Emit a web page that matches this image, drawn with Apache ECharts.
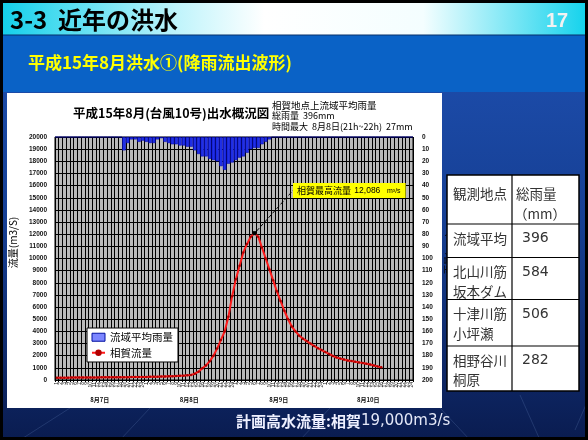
<!DOCTYPE html>
<html>
<head>
<meta charset="utf-8">
<script src="https://cdn.jsdelivr.net/npm/echarts@6/dist/echarts.min.js"></script>
<style>
  html, body { margin: 0; padding: 0; background: #0c2560; }
  #chart { width: 588px; height: 440px; }
</style>
</head>
<body>
<div id="chart"></div>
<script>
// ---- data ----
const days = ['8月7日', '8月8日', '8月9日', '8月10日'];
const hourNames = ['1','2','3','4','5','6','7','8','9','10','11','12',
                   '13','14','15','16','17','18','19','20','21','22','23','24'];

// basin-average hourly rainfall (mm), 8/7 1h .. 8/10 24h
const rainfall = [
  0,0,0,0,0,0,0,0,0,0,0,0, 0,0,0,0,0,0,11,5,2,2,4,3,
  4,5,5,2,1,4,5,6,6,7,7,8, 8,11,14,16,16,18,19,20,24,27,22,21,
  19,17,16,13,10,9,9,6,4,2,0,0, 0,0,0,0,0,0,0,0,0,0,0,0,
  0,0,0,0,0,0,0,0,0,0,0,0, 0,0,0,0,0,0,0,0,0,0,0,0
];

// hourly discharge at Aiga (m3/s)
const flow = [
  190,190,195,195,200,200,205,205,210,210,215,215,
  220,220,225,225,230,230,235,235,240,240,245,250,
  255,260,265,270,280,290,300,310,320,340,360,390,
  420,520,680,960,1200,1550,2000,2600,3300,4000,5200,6900,
  8300,9400,10500,11200,11800,12086,11800,10900,10000,9100,8200,7300,
  6500,5700,5000,4400,4000,3650,3400,3200,3000,2800,2620,2460,
  2300,2150,1980,1850,1760,1680,1610,1560,1500,1450,1400,1340,
  1280,1200,1120,1040
];

const rainTotal = 396;
const rainMaxHour = 27;
const stationNames = [['流域平均'], ['北山川筋', '坂本ダム'], ['十津川筋', '小坪瀬'], ['相野谷川', '桐原']];
const stationTotals = [396, 584, 506, 282];

// ---- derived ----
const hourCats = [];
days.forEach(function () { hourNames.forEach(function (h) { hourCats.push(h); }); });
const peakFlow = Math.max.apply(null, flow);
const peakIndex = flow.indexOf(peakFlow);
const flowData = flow.map(function (v, i) {
  if (i !== peakIndex) return v;
  return {
    value: v,
    symbol: 'rect',
    symbolSize: 4,
    itemStyle: { color: '#000' },
    label: {
      show: true,
      position: 'right',
      formatter: function (p) {
        return '{a|相賀最高流量} {b|' + p.value.toLocaleString('en-US') + '}  {c|m³/s}';
      },
      backgroundColor: '#ffff00',
      padding: [2, 5, 1, 4],
      rich: {
        a: { fontSize: 9, color: '#000', fontFamily: '"Noto Sans CJK JP"' },
        b: { fontSize: 8.5, color: '#000', fontFamily: 'Liberation Sans' },
        c: { fontSize: 7, color: '#000', fontFamily: 'Liberation Sans' }
      }
    },
    labelLine: { show: true, lineStyle: { color: '#000', type: 'dashed', width: 1 } }
  };
});

const JP = '"Noto Sans CJK JP", "Noto Sans", sans-serif';
const G = echarts.graphic;

// ---- slide decoration & table ----
const graphics = [
  { type: 'rect', z: -100, shape: { x: 0, y: 0, width: 588, height: 440 },
    style: { fill: new G.LinearGradient(0, 0, 0, 1, [
      { offset: 0, color: '#1f52b4' }, { offset: 0.5, color: '#163f94' }, { offset: 1, color: '#0a1c50' }]) } },
  { type: 'rect', z: -90, shape: { x: 0, y: 0, width: 588, height: 35 },
    style: { fill: new G.LinearGradient(0, 0, 1, 0, [
      { offset: 0, color: '#12cfea' }, { offset: 0.3, color: '#bff4fb' }, { offset: 0.45, color: '#ffffff' },
      { offset: 0.72, color: '#f4feff' }, { offset: 1, color: '#12d2ec' }]) } },
  { type: 'rect', z: -90, shape: { x: 0, y: 35, width: 588, height: 57 },
    style: { fill: '#0a62c6' } },
  { type: 'line', z: -89, shape: { x1: 0, y1: 35, x2: 588, y2: 35 }, style: { stroke: '#06306a', lineWidth: 1 } },
  { type: 'rect', z: -50, shape: { x: 7, y: 93, width: 435, height: 315 }, style: { fill: '#ffffff' } },
  { type: 'text', z: 10, style: { x: 10, y: 20, text: '3-3  近年の洪水', fill: '#000',
      font: 'bold 24px ' + JP, verticalAlign: 'middle' } },
  { type: 'text', z: 10, style: { x: 546, y: 21, text: '17', fill: '#f2f2f2',
      font: 'bold 20px "Liberation Sans"', verticalAlign: 'middle',
      shadowColor: 'rgba(0,0,0,0.9)', shadowOffsetX: 1, shadowOffsetY: 1, shadowBlur: 1 } },
  { type: 'text', z: 10, style: { x: 28, y: 63, text: '平成15年8月洪水①(降雨流出波形)', fill: '#ffff00',
      font: 'bold 17px ' + JP, verticalAlign: 'middle' } },
  { type: 'text', z: 10, style: { x: 73, y: 113, text: '平成15年8月(台風10号)出水概況図', fill: '#000',
      font: 'bold 12.5px ' + JP, verticalAlign: 'middle' } },
  { type: 'text', z: 10, style: { x: 272, y: 105, text: '相賀地点上流域平均雨量', fill: '#000',
      font: '9.5px ' + JP, verticalAlign: 'middle' } },
  { type: 'text', z: 10, style: { x: 272, y: 116, text: '総雨量  ' + rainTotal + 'mm', fill: '#000',
      font: '9px ' + JP, verticalAlign: 'middle' } },
  { type: 'text', z: 10, style: { x: 272, y: 127, text: '時間最大  8月8日(21h~22h)  ' + rainMaxHour + 'mm', fill: '#000',
      font: '9px ' + JP, verticalAlign: 'middle' } },
  { type: 'text', z: 10, style: { x: 236, y: 421, text: '{a|計画高水流量:相賀}{b|19,000m3/s}',
      verticalAlign: 'middle', rich: {
        a: { font: 'bold 15px ' + JP, fill: '#eef0ff' },
        b: { font: '15px "DejaVu Sans"', fill: '#e4e8f8' } } } },
  // table
  { type: 'rect', z: 5, shape: { x: 447, y: 175, width: 132, height: 216 },
    style: { fill: '#ffffff', stroke: '#000', lineWidth: 1.5 } },
  { type: 'line', z: 6, shape: { x1: 512, y1: 175, x2: 512, y2: 391 }, style: { stroke: '#000', lineWidth: 1.2 } }
];

const rowLines = [224, 257.5, 299.5, 346];
rowLines.forEach(function (y) {
  graphics.push({ type: 'line', z: 6, shape: { x1: 447, y1: y, x2: 579, y2: y }, style: { stroke: '#000', lineWidth: 1.2 } });
});
const cellFont = '13.5px ' + JP;
graphics.push({ type: 'text', z: 7, style: { x: 453, y: 193.5, text: '観測地点', fill: '#333', font: cellFont, verticalAlign: 'middle' } });
graphics.push({ type: 'text', z: 7, style: { x: 516, y: 193.5, text: '総雨量', fill: '#333', font: cellFont, verticalAlign: 'middle' } });
graphics.push({ type: 'text', z: 7, style: { x: 514, y: 213.5, text: '（mm）', fill: '#333', font: cellFont, verticalAlign: 'middle' } });
stationNames.forEach(function (lines, r) {
  const y0 = rowLines[r] + 14.5;
  lines.forEach(function (t, k) {
    graphics.push({ type: 'text', z: 7, style: { x: 453, y: y0 + k * 19.5, text: t, fill: '#333', font: cellFont, verticalAlign: 'middle' } });
  });
  graphics.push({ type: 'text', z: 7, style: { x: 522, y: y0, text: String(stationTotals[r]), fill: '#333',
    font: '14px "DejaVu Sans"', verticalAlign: 'middle' } });
});

// faint streaks in the lower band
[[20, 440, 70, 408], [120, 440, 150, 408], [300, 440, 330, 408], [470, 440, 440, 408], [540, 440, 520, 395], [575, 430, 588, 400]]
  .forEach(function (s) {
    graphics.push({ type: 'line', z: -80, shape: { x1: s[0], y1: s[1], x2: s[2], y2: s[3] },
      style: { stroke: 'rgba(140,170,230,0.18)', lineWidth: 1 } });
  });
graphics.push({ type: 'rect', z: 100, shape: { x: 1.5, y: 1.5, width: 585, height: 437 },
  style: { fill: null, stroke: '#000', lineWidth: 3 } });

const tickFont = { fontSize: 6.5, fontWeight: 'bold', color: '#111', fontFamily: 'Liberation Sans' };
const plainNumber = function (v) { return String(v); };

const option = {
  animation: false,
  graphic: graphics,
  legend: {
    orient: 'vertical', left: 87, top: 328,
    backgroundColor: '#fff', borderColor: '#000', borderWidth: 1,
    padding: [4, 5, 4, 4], itemGap: 5, itemWidth: 13, itemHeight: 8,
    textStyle: { fontSize: 10.5, fontFamily: JP, color: '#000' },
    data: [
      { name: '流域平均雨量', icon: 'rect', itemStyle: { color: '#7c86ff', borderColor: '#0010a0', borderWidth: 1 } },
      { name: '相賀流量' }
    ]
  },
  grid: {
    left: 52, right: 175, top: 137, bottom: 60,
    show: true, backgroundColor: '#b9b9b9', borderColor: '#000', borderWidth: 1
  },
  xAxis: [
    {
      type: 'category', data: hourCats, boundaryGap: true,
      axisLine: { lineStyle: { color: '#000' } },
      axisTick: { show: true, interval: 0, length: 2, lineStyle: { color: '#000' } },
      axisLabel: { interval: 0, rotate: 90, fontSize: 5, margin: 2, color: '#222', fontFamily: 'Liberation Sans' },
      splitLine: { show: true, interval: 0, lineStyle: { color: '#000', width: 1 } }
    },
    {
      type: 'category', data: days, position: 'bottom', boundaryGap: true,
      axisLine: { show: false },
      axisTick: { show: true, length: 24, lineStyle: { color: '#000' } },
      axisLabel: { fontSize: 6, margin: 17, color: '#111', fontWeight: 'bold', fontFamily: JP },
      splitLine: { show: false }
    }
  ],
  yAxis: [
    {
      type: 'value', min: 0, max: 20000, interval: 1000,
      name: '流量(m3/S)', nameLocation: 'middle', nameGap: 37, nameRotate: 90,
      nameTextStyle: { fontSize: 10, color: '#000', fontFamily: JP, padding: [0, 0, 0, 32] },
      axisLine: { show: false }, axisTick: { show: false },
      axisLabel: Object.assign({ margin: 8, formatter: plainNumber }, tickFont),
      splitLine: { show: true, lineStyle: { color: '#000', width: 1 } }
    },
    {
      type: 'value', min: 0, max: 200, interval: 10, inverse: true, position: 'right',
      name: '雨量(mm)', nameLocation: 'middle', nameGap: 24, nameRotate: 90,
      nameTextStyle: { fontSize: 9, color: '#000', fontFamily: JP, padding: [0, 0, 0, 10] },
      axisLine: { show: false }, axisTick: { show: false },
      axisLabel: Object.assign({ margin: 9, align: 'left', formatter: plainNumber }, tickFont),
      splitLine: { show: false }
    }
  ],
  series: [
    {
      name: '流域平均雨量', type: 'bar', xAxisIndex: 0, yAxisIndex: 1,
      data: rainfall, barCategoryGap: '6%',
      itemStyle: { color: '#1f2fe8', borderColor: '#0000a8', borderWidth: 0.5 },
      emphasis: { disabled: true }
    },
    {
      name: '相賀流量', type: 'line', xAxisIndex: 0, yAxisIndex: 0,
      data: flowData, smooth: false,
      showSymbol: true, showAllSymbol: true, symbol: 'circle', symbolSize: 2.5,
      lineStyle: { color: '#ff1a1a', width: 2 },
      itemStyle: { color: '#b00000' },
      emphasis: { disabled: true },
      z: 5,
      labelLayout: function (p) {
        if (p.dataIndex !== peakIndex) return {};
        return { x: 293, y: 190.5, align: 'left', verticalAlign: 'middle' };
      }
    }
  ]
};

const chart = echarts.init(document.getElementById('chart'), null, { renderer: 'canvas' });
chart.setOption(option);
</script>
</body>
</html>
